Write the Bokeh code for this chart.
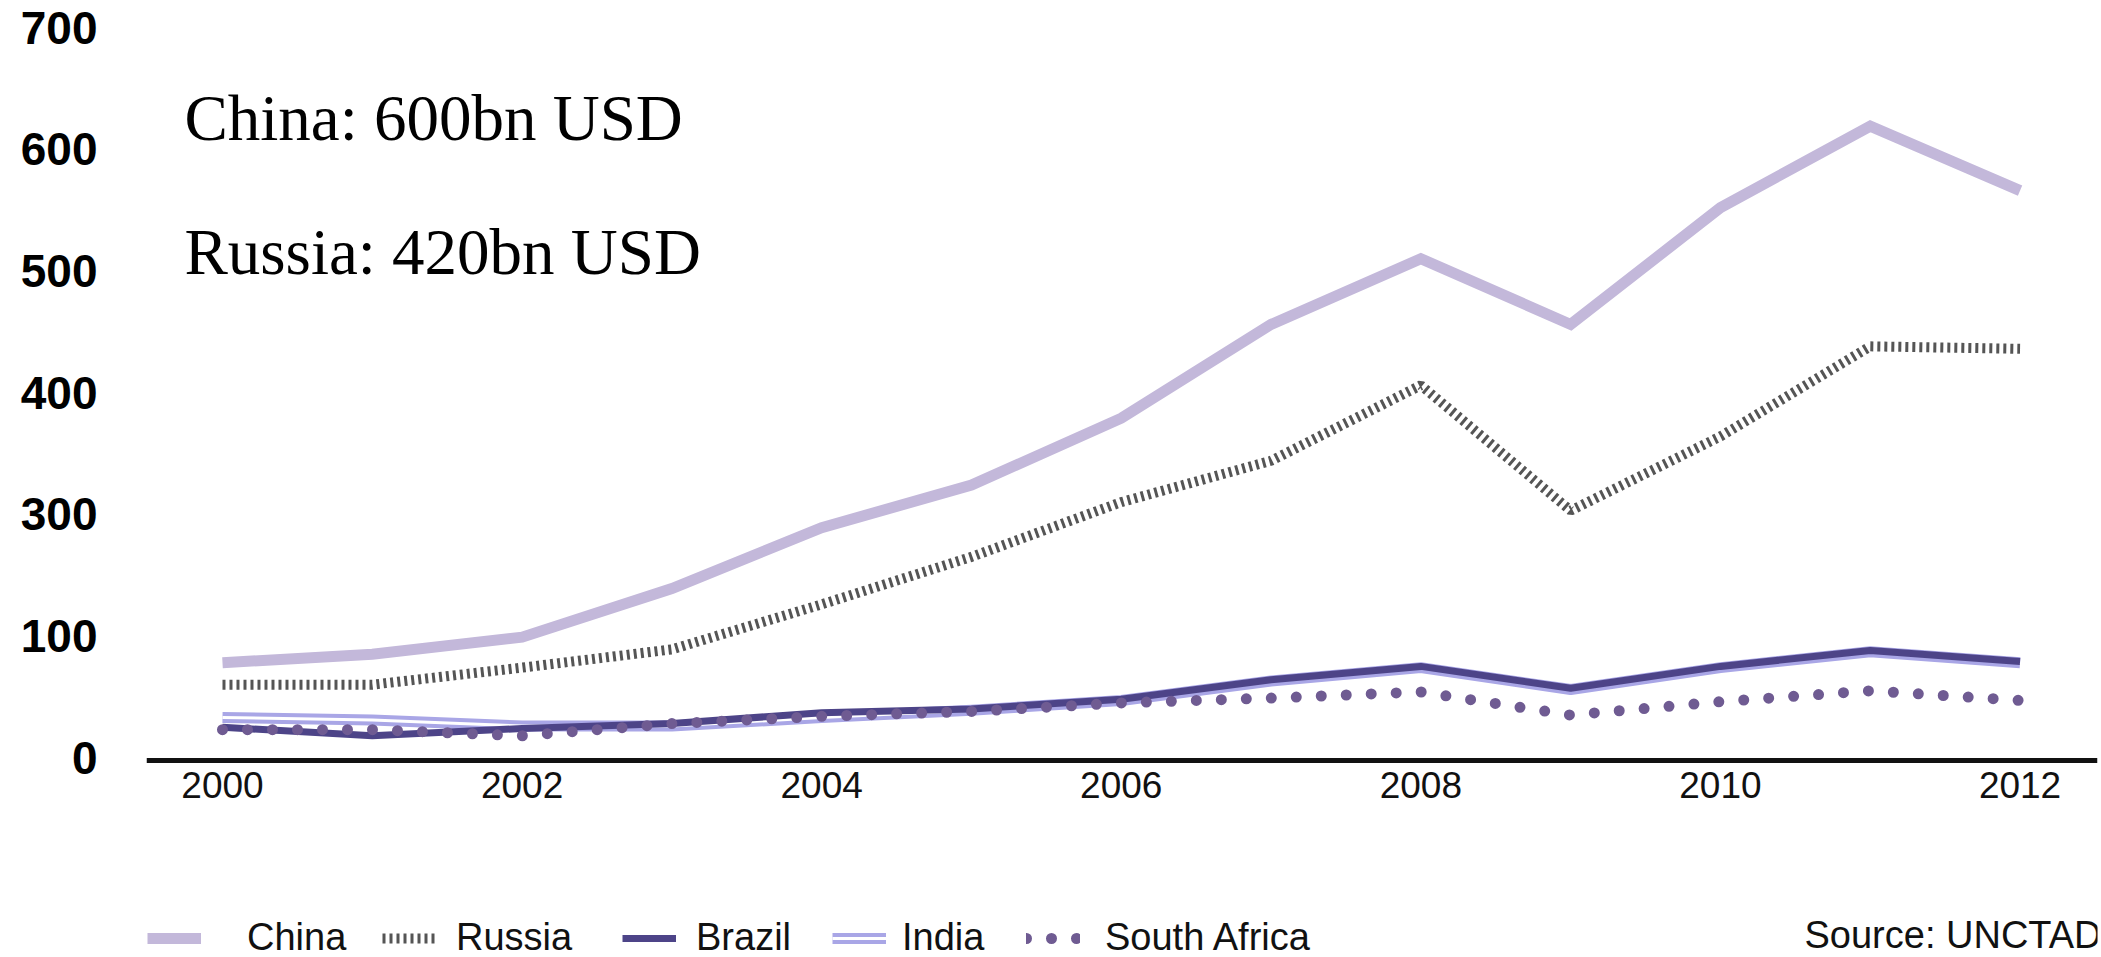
from bokeh.plotting import figure
from bokeh.models import Range1d, FixedTicker, Legend, LegendItem, Label
from bokeh.embed import file_html
from bokeh.resources import INLINE

# ---- data ----
years = [2000, 2001, 2002, 2003, 2004, 2005, 2006, 2007, 2008, 2009, 2010, 2011, 2012]
china = [178, 185, 199, 239, 289, 324, 379, 456, 510, 456, 552, 619, 566]
russia = [160, 160, 174, 189, 226, 265, 310, 344, 406, 303, 364, 438, 436]
brazil = [125, 118, 124, 128, 137, 140, 148, 164, 175, 157, 175, 188, 179]
india = [133, 131, 126, 126, 133, 139, 147, 163, 174, 156, 174, 187, 178]
south_africa = [123, 123, 118, 128, 134, 138, 145, 149, 154, 135, 146, 155, 147]

series_names = ["China", "Russia", "Brazil", "India", "South Africa"]
x_tick_values = [2000, 2002, 2004, 2006, 2008, 2010, 2012]
x_tick_labels = ["2000", "2002", "2004", "2006", "2008", "2010", "2012"]
y_tick_values = [100, 200, 300, 400, 500, 600, 700]
y_tick_labels = ["0", "100", "300", "400", "500", "600", "700"]
annotation_texts = ["China: 600bn USD", "Russia: 420bn USD"]
source_text = "Source: UNCTAD"

# ---- figure ----
p = figure(width=2101, height=957, output_backend="svg", toolbar_location=None,
           x_range=Range1d(1999.4927, 2012.517), y_range=Range1d(-64.2, 722.2),
           min_border_left=146, min_border_right=4, min_border_top=0,
           min_border_bottom=0)
p.outline_line_color = None
p.grid.visible = False
p.background_fill_color = "white"
p.border_fill_color = "white"

# x axis (drawn at the baseline value, so the legend can live inside the frame)
p.xaxis.fixed_location = 97.7
p.xaxis.ticker = FixedTicker(ticks=x_tick_values)
p.xaxis.major_label_overrides = dict(zip(x_tick_values, x_tick_labels))
p.xaxis.axis_line_width = 5
p.xaxis.axis_line_color = "#111111"
p.xaxis.major_tick_line_color = None
p.xaxis.minor_tick_line_color = None
p.xaxis.major_label_standoff = 6
p.xaxis.major_label_text_font = "Liberation Sans"
p.xaxis.major_label_text_font_size = "37px"
p.xaxis.major_label_text_color = "#111111"

# y axis
p.yaxis.ticker = FixedTicker(ticks=y_tick_values)
p.yaxis.major_label_overrides = dict(zip(y_tick_values, y_tick_labels))
p.yaxis.axis_line_color = None
p.yaxis.major_tick_line_color = None
p.yaxis.minor_tick_line_color = None
p.yaxis.major_label_standoff = 43
p.yaxis.major_label_text_font = "Liberation Sans"
p.yaxis.major_label_text_font_style = "bold"
p.yaxis.major_label_text_font_size = "46px"
p.yaxis.major_label_text_color = "#000000"

# ---- series ----
r_china = p.line(years, china, line_width=11, line_color="#c3b8da", line_join="miter")
r_russia = p.line(years, russia, line_width=10, line_color="#555555", line_dash="3 4")
r_india_a = p.line(years, india, line_width=11, line_color="#a9a6e6", line_join="round")
r_india_b = p.line(years, india, line_width=3, line_color="white", line_join="round")
r_brazil = p.line(years, brazil, line_width=7, line_color="#4d4488", line_join="round")
r_sa = p.line(years, south_africa, line_width=11, line_color="#6f5b92",
              line_dash="0 25", line_cap="round")

# ---- legend (one entry per block so spacing follows the reference) ----
legend_renderers = [[r_china], [r_russia], [r_brazil], [r_india_a, r_india_b], [r_sa]]
legend_x = [1, 236, 476, 686, 880]
legend_standoff = [46, 20, 20, 16, 25]
for name, rends, lx, so in zip(series_names, legend_renderers, legend_x, legend_standoff):
    leg = Legend(items=[LegendItem(label=name, renderers=rends)],
                 location=(lx, -2), orientation="horizontal",
                 glyph_width=54, glyph_height=38, label_height=38, label_standoff=so,
                 padding=0, margin=0, border_line_color=None,
                 background_fill_alpha=0,
                 label_text_font="Liberation Sans", label_text_font_size="38px",
                 label_text_color="#111111")
    p.add_layout(leg, "center")

# ---- annotations ----
p.add_layout(Label(x=1999.746, y=626.0, text=annotation_texts[0],
                   text_font="Liberation Serif", text_font_size="65px",
                   text_color="#000000", text_baseline="alphabetic"))
p.add_layout(Label(x=1999.746, y=515.9, text=annotation_texts[1],
                   text_font="Liberation Serif", text_font_size="65px",
                   text_color="#000000", text_baseline="alphabetic"))
p.add_layout(Label(x=2010.561, y=-45.5, text=source_text,
                   text_font="Liberation Sans", text_font_size="38px",
                   text_color="#111111", text_baseline="middle"))

open("out.html", "w").write(file_html(p, INLINE))
